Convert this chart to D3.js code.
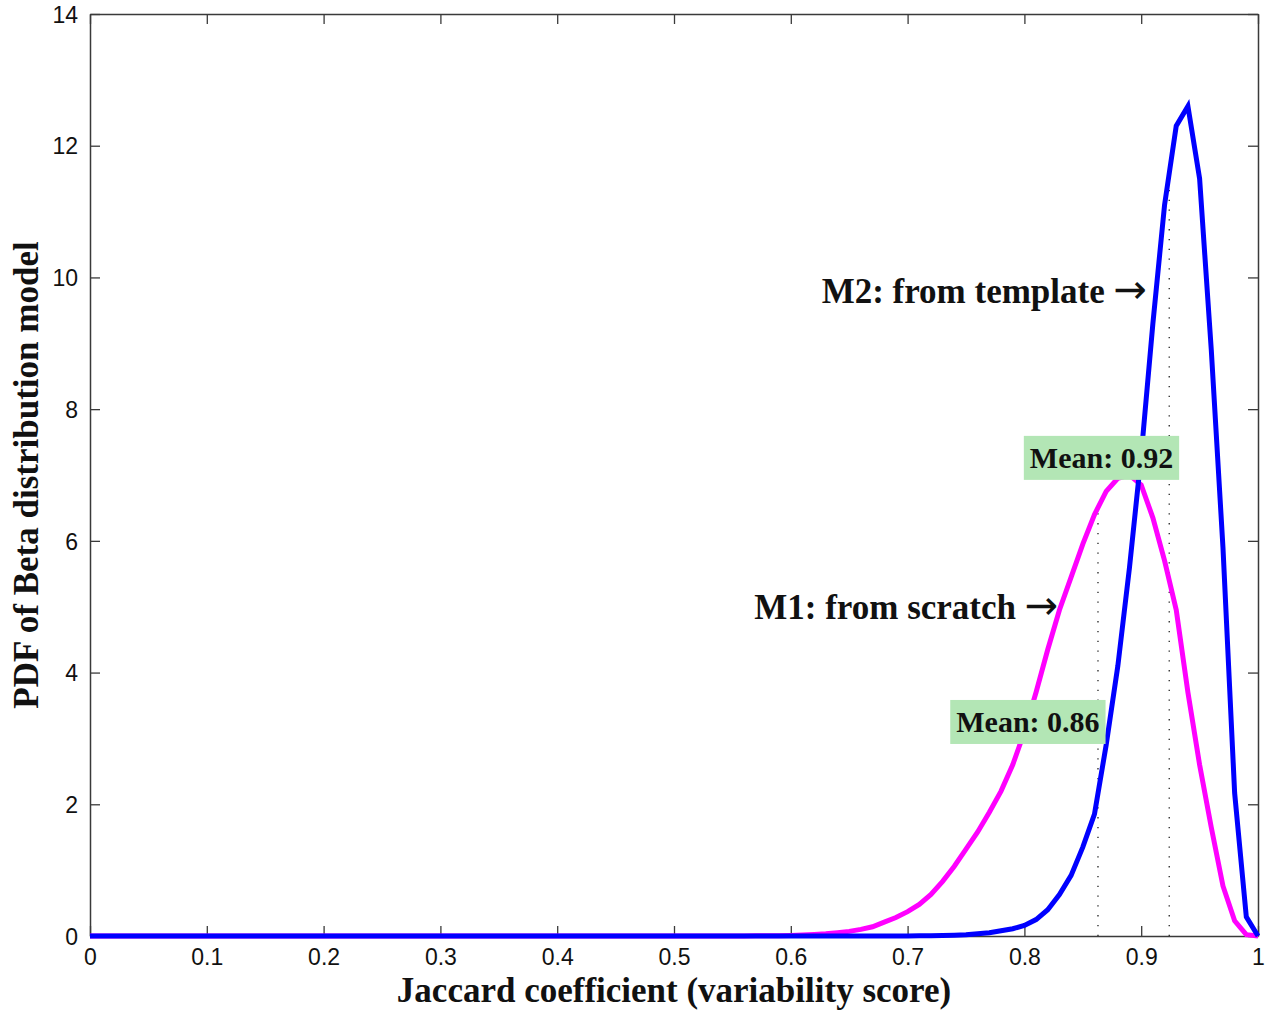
<!DOCTYPE html>
<html>
<head>
<meta charset="utf-8">
<script src="https://cdn.jsdelivr.net/npm/d3@7"></script>
<style>
  body { margin: 0; background: #fff; }
  svg { display: block; }
</style>
</head>
<body>
<svg width="1275" height="1012"></svg>
<script>
// x samples (Jaccard coefficient), step 0.01
const xs = d3.range(0, 101).map(i => i / 100);

// M1 (from scratch) pdf values, 0.00 .. 1.00
const m1Values = [
    0, 0, 0, 0, 0, 0, 0, 0, 0, 0,
    0, 0, 0, 0, 0, 0, 0, 0, 0, 0,
    0, 0, 0, 0, 0, 0, 0, 0, 0, 0,
    0, 0, 0, 0, 0, 0, 0, 0, 0, 0,
    0, 0, 0, 0, 0, 0, 0, 0, 0, 0,
    0, 0, 0, 0, 0, 0, 0.001, 0.002, 0.003, 0.005,
    0.009, 0.014, 0.022, 0.033, 0.05, 0.07, 0.10, 0.14, 0.21, 0.28,
    0.37, 0.48, 0.63, 0.83, 1.06, 1.32, 1.58, 1.88, 2.2, 2.6,
    3.1, 3.7, 4.35, 4.95, 5.45, 5.95, 6.4, 6.75, 6.95, 7.0,
    6.85, 6.35, 5.7, 4.95, 3.7, 2.6, 1.65, 0.76, 0.23, 0.02,
    0
];

// M2 (from template) pdf values, 0.00 .. 1.00
const m2Values = [
    0, 0, 0, 0, 0, 0, 0, 0, 0, 0,
    0, 0, 0, 0, 0, 0, 0, 0, 0, 0,
    0, 0, 0, 0, 0, 0, 0, 0, 0, 0,
    0, 0, 0, 0, 0, 0, 0, 0, 0, 0,
    0, 0, 0, 0, 0, 0, 0, 0, 0, 0,
    0, 0, 0, 0, 0, 0, 0, 0, 0, 0,
    0, 0, 0, 0, 0, 0, 0, 0, 0, 0,
    0.001, 0.002, 0.004, 0.007, 0.012, 0.02, 0.035, 0.05, 0.08, 0.11,
    0.16, 0.25, 0.40, 0.63, 0.92, 1.35, 1.85, 2.9, 4.1, 5.6,
    7.3, 9.3, 11.1, 12.3, 12.6, 11.5, 8.9, 5.9, 2.17, 0.29,
    0
];

const means = [0.863, 0.924];
const meanLabels = ["Mean: 0.86", "Mean: 0.92"];

const xTicks = d3.range(0, 11).map(i => i / 10);
const yTicks = [0, 2, 4, 6, 8, 10, 12, 14];

const svg = d3.select("svg");

const margin = { top: 14, right: 17, bottom: 76, left: 90 };
const width = 1275 - margin.left - margin.right;
const height = 1012 - margin.top - margin.bottom;

const x = d3.scaleLinear().domain([0, 1]).range([margin.left, margin.left + width]);
const y = d3.scaleLinear().domain([0, 14]).range([margin.top + height, margin.top]);

const axisColor = "#3a3a3a";
const tickFont = "'Liberation Sans', Arial, sans-serif";
const serif = "'Liberation Serif', 'Times New Roman', serif";

// axes, ticks inward on all four sides like the matlab box
const bottomAxis = svg.append("g")
    .attr("transform", `translate(0, ${y(0)})`)
    .call(d3.axisBottom(x).tickValues(xTicks).tickSizeInner(-10).tickSizeOuter(0)
        .tickPadding(13).tickFormat(d => d === 0 || d === 1 ? d3.format("d")(d) : d3.format(".1f")(d)));
const leftAxis = svg.append("g")
    .attr("transform", `translate(${x(0)}, 0)`)
    .call(d3.axisLeft(y).tickValues(yTicks).tickSizeInner(-10).tickSizeOuter(0).tickPadding(12));
const topAxis = svg.append("g")
    .attr("transform", `translate(0, ${y(14)})`)
    .call(d3.axisTop(x).tickValues(xTicks).tickSizeInner(-10).tickSizeOuter(0).tickFormat(""));
const rightAxis = svg.append("g")
    .attr("transform", `translate(${x(1)}, 0)`)
    .call(d3.axisRight(y).tickValues(yTicks).tickSizeInner(-10).tickSizeOuter(0).tickFormat(""));

[bottomAxis, leftAxis, topAxis, rightAxis].forEach(a => {
    a.select(".domain").attr("stroke", axisColor).attr("stroke-width", 1.5);
    a.selectAll(".tick line").attr("stroke", axisColor).attr("stroke-width", 1.3);
    a.selectAll("text")
        .attr("font-family", tickFont)
        .attr("font-size", "23px")
        .attr("fill", "#111");
});
leftAxis.selectAll("text").attr("dy", "0.36em");

// dotted mean lines from zero up to the curve
const series = [m1Values, m2Values];
means.forEach((m, i) => {
    const vals = series[i];
    const k = Math.floor(m * 100);
    const t = m * 100 - k;
    const top = vals[k] + (vals[k + 1] - vals[k]) * t;
    svg.append("line")
        .attr("x1", x(m)).attr("x2", x(m))
        .attr("y1", y(0)).attr("y2", y(top))
        .attr("stroke", "#222")
        .attr("stroke-width", 1.3)
        .attr("stroke-dasharray", "1.3 8.5");
});

// the two pdf curves
const line = d3.line()
    .x((d, i) => x(xs[i]))
    .y(d => y(d));

svg.append("path")
    .datum(m1Values)
    .attr("d", line)
    .attr("fill", "none")
    .attr("stroke", "#ff00ff")
    .attr("stroke-width", 5)
    .attr("stroke-linejoin", "miter");

svg.append("path")
    .datum(m2Values)
    .attr("d", line)
    .attr("fill", "none")
    .attr("stroke", "#0000ff")
    .attr("stroke-width", 5)
    .attr("stroke-linejoin", "miter");

// mean label boxes (centre given in data units)
const meanBoxes = [
    { cx: 0.803, cy: 3.25, text: meanLabels[0] },
    { cx: 0.866, cy: 7.26, text: meanLabels[1] }
];
meanBoxes.forEach(b => {
    const g = svg.append("g").attr("transform", `translate(${x(b.cx)}, ${y(b.cy)})`);
    const txt = g.append("text")
        .attr("text-anchor", "middle")
        .attr("dy", "0.35em")
        .attr("font-family", serif)
        .attr("font-weight", "bold")
        .attr("font-size", "30px")
        .attr("fill", "#111")
        .text(b.text);
    const bb = txt.node().getBBox();
    g.insert("rect", "text")
        .attr("x", bb.x - 6)
        .attr("y", -22)
        .attr("width", bb.width + 12)
        .attr("height", 44)
        .attr("fill", "#b3e6b5");
});

// curve annotations (right end given in data units)
const notes = [
    { x: 0.829, y: 5.0, text: "M1: from scratch" },
    { x: 0.905, y: 9.8, text: "M2: from template" }
];
notes.forEach(n => {
    const t = svg.append("text")
        .attr("x", x(n.x))
        .attr("y", y(n.y))
        .attr("text-anchor", "end")
        .attr("dy", "0.35em")
        .attr("font-family", serif)
        .attr("font-weight", "bold")
        .attr("font-size", "35px")
        .attr("fill", "#111");
    t.append("tspan").text(n.text + " ");
    t.append("tspan")
        .attr("font-family", "'DejaVu Sans', sans-serif")
        .attr("font-weight", "normal")
        .attr("font-size", "40px")
        .text("\u2192");
});

// axis titles
svg.append("text")
    .attr("x", margin.left + width / 2)
    .attr("y", 1002)
    .attr("text-anchor", "middle")
    .attr("font-family", serif)
    .attr("font-weight", "bold")
    .attr("font-size", "35px")
    .attr("fill", "#111")
    .text("Jaccard coefficient (variability score)");

svg.append("text")
    .attr("transform", `translate(26, ${margin.top + height / 2}) rotate(-90)`)
    .attr("text-anchor", "middle")
    .attr("dy", "0.35em")
    .attr("font-family", serif)
    .attr("font-weight", "bold")
    .attr("font-size", "35px")
    .attr("fill", "#111")
    .text("PDF of Beta distribution model");
</script>
</body>
</html>
